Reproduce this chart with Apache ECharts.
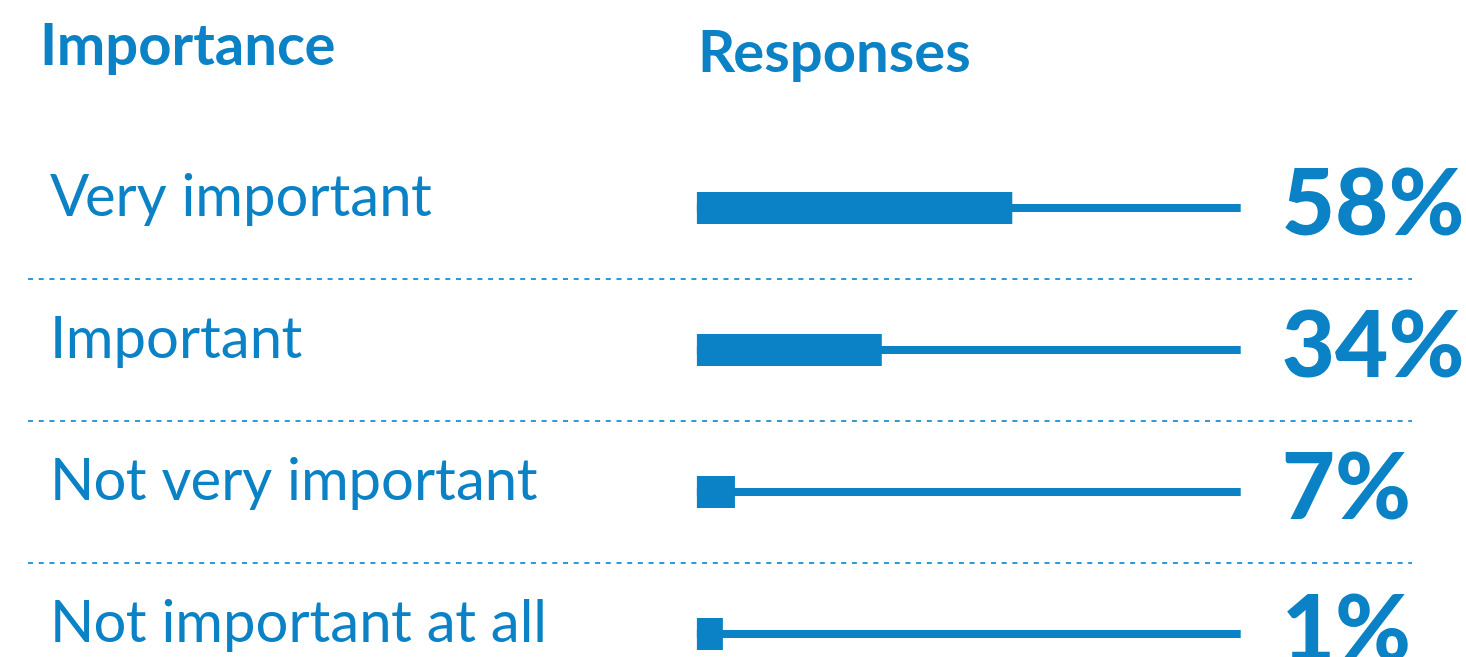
<!DOCTYPE html>
<html>
<head>
<meta charset="utf-8">
<script src="https://cdn.jsdelivr.net/npm/echarts@6/dist/echarts.min.js"></script>
<style>
  html, body { margin: 0; padding: 0; background: #ffffff; overflow: hidden; }
  /* the last row runs past the lower edge of the visible frame */
  #frame { width: 1466px; height: 657px; overflow: hidden; }
  #chart { width: 1466px; height: 705px; }
</style>
</head>
<body>
<div id="frame"><div id="chart"></div></div>
<script>
// Survey answers: how important is it?
const categories = ['Very important', 'Important', 'Not very important', 'Not important at all'];
const responses = [58, 34, 7, 1];      // share of respondents, %
const trackFull = [100, 100, 100, 100]; // full-scale track behind each bar

const BLUE = '#0a82c5';
const DASH = '#2e9bd8';

const chart = echarts.init(document.getElementById('chart'), null, { renderer: 'canvas' });

chart.setOption({
  backgroundColor: '#ffffff',
  animation: false,
  title: [
    {
      text: 'Importance', left: 40, top: 17, padding: 0,
      textStyle: { fontFamily: 'Lato', fontWeight: 'bold', fontSize: 58, color: BLUE }
    },
    {
      text: 'Responses', left: 698, top: 24, padding: 0,
      textStyle: { fontFamily: 'Lato', fontWeight: 'bold', fontSize: 58, color: BLUE }
    }
  ],
  grid: { left: 28, right: 54, top: 137, bottom: 0, containLabel: false, outerBoundsMode: 'none' },
  xAxis: {
    type: 'value',
    min: -123,
    max: 131.5,
    show: false
  },
  yAxis: [
    {
      type: 'category',
      data: categories,
      inverse: true,
      axisLine: { show: false },
      axisTick: { show: false },
      axisLabel: {
        align: 'left',
        verticalAlign: 'bottom',
        lineHeight: 22,   // lifts the row name a little above its bar
        margin: -22,
        fontFamily: 'Lato',
        fontSize: 58,
        color: BLUE
      },
      splitLine: {
        show: true,
        interval: (i) => i > 0,
        lineStyle: { color: DASH, width: 2, type: [5, 5.7] }
      }
    },
    {
      type: 'category',
      data: categories,
      inverse: true,
      show: false
    }
  ],
  series: [
    {
      name: 'Track',
      type: 'bar',
      yAxisIndex: 1,
      data: trackFull,
      barWidth: 8,
      itemStyle: { color: BLUE },
      silent: true,
      label: {
        show: true,
        position: 'right',
        distance: 41,
        offset: [0, -3],
        formatter: (p) => responses[p.dataIndex] + '%',
        fontFamily: 'Lato',
        fontWeight: 900,
        fontSize: 92,
        color: BLUE
      },
      z: 2
    },
    {
      name: 'Responses',
      type: 'bar',
      yAxisIndex: 0,
      data: responses,
      barWidth: 32,
      barMinHeight: 26,
      itemStyle: { color: BLUE },
      z: 3
    }
  ]
});
</script>
</body>
</html>
